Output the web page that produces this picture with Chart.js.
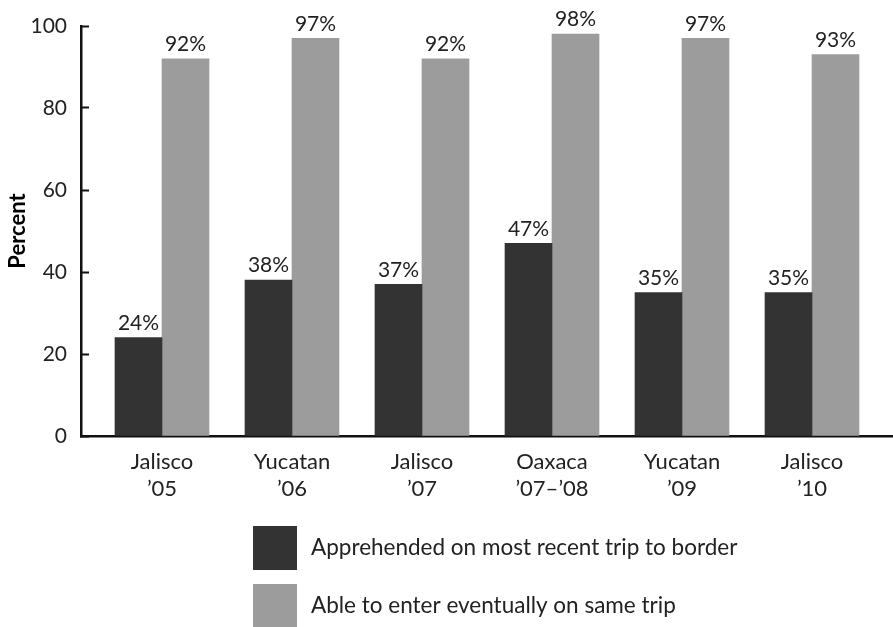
<!DOCTYPE html>
<html>
<head>
<meta charset="utf-8">
<script src="https://cdn.jsdelivr.net/npm/chart.js@4/dist/chart.umd.min.js"></script>
<style>
  html, body { margin: 0; padding: 0; background: #fff; }
  #wrap { width: 893px; height: 627px; position: relative; }
</style>
</head>
<body>
<div id="wrap"><canvas id="chart"></canvas></div>
<script>
// survey sites (two-line labels)
const sites = [
  ['Jalisco', '\u201905'],
  ['Yucatan', '\u201906'],
  ['Jalisco', '\u201907'],
  ['Oaxaca', '\u201907\u2013\u201908'],
  ['Yucatan', '\u201909'],
  ['Jalisco', '\u201910']
];
const apprehended = [24, 38, 37, 47, 35, 35];
const enteredEventually = [92, 97, 92, 98, 97, 93];
const yTicks = [0, 20, 40, 60, 80, 100];

const FONT = 'Lato, "Noto Sans", sans-serif';
const TEXT = '#222';

const toPoints = (vals) => vals.map((v, i) => ({ x: i, y: v }));

// percent labels above each bar
const valueLabels = {
  id: 'valueLabels',
  afterDatasetsDraw(chart) {
    const ctx = chart.ctx;
    ctx.save();
    ctx.font = '21px ' + FONT;
    ctx.fillStyle = TEXT;
    ctx.textAlign = 'center';
    ctx.textBaseline = 'bottom';
    chart.data.datasets.forEach((ds, i) => {
      chart.getDatasetMeta(i).data.forEach((bar, j) => {
        ctx.fillText(ds.data[j].y + '%', bar.x, bar.y - 4);
      });
    });
    ctx.restore();
  }
};

// stacked legend under the chart
const boxLegend = {
  id: 'boxLegend',
  afterDraw(chart) {
    const ctx = chart.ctx;
    ctx.save();
    ctx.font = '22.5px ' + FONT;
    ctx.textBaseline = 'middle';
    chart.data.datasets.forEach((ds, i) => {
      const y = 526 + i * 58;
      ctx.fillStyle = ds.backgroundColor;
      ctx.fillRect(253, y, 44, 44);
      ctx.fillStyle = TEXT;
      ctx.fillText(ds.label, 311, y + 22);
    });
    ctx.restore();
  }
};

new Chart(document.getElementById('chart'), {
  type: 'bar',
  data: {
    datasets: [
      {
        label: 'Apprehended on most recent trip to border',
        data: toPoints(apprehended),
        backgroundColor: '#333333'
      },
      {
        label: 'Able to enter eventually on same trip',
        data: toPoints(enteredEventually),
        backgroundColor: '#9c9c9c'
      }
    ]
  },
  options: {
    responsive: true,
    maintainAspectRatio: false,
    animation: false,
    barThickness: 47,
    layout: { padding: { top: 26, right: 0, bottom: 0, left: 0 } },
    plugins: {
      legend: { display: false },
      tooltip: { enabled: false }
    },
    scales: {
      x: {
        type: 'linear',
        offset: false,
        min: -0.623,
        max: 5.623,
        afterFit: (s) => { s.height = 191; },
        grid: { display: false, offset: false },
        border: { display: true, color: '#111', width: 2.5 },
        ticks: {
          stepSize: 1,
          includeBounds: false,
          autoSkip: false,
          maxRotation: 0,
          padding: 5,
          color: TEXT,
          font: { family: FONT, size: 22, lineHeight: 1.2 },
          callback: (v) => sites[v] || ''
        }
      },
      y: {
        min: 0,
        max: 100,
        afterFit: (s) => { s.width = 81; s.paddingTop = 10; s.paddingBottom = 10; },
        afterBuildTicks: (s) => { s.ticks = yTicks.map((v) => ({ value: v })); },
        grid: { drawOnChartArea: false, tickLength: -8, color: '#111', tickWidth: 2 },
        border: { display: true, color: '#111', width: 2.5 },
        title: {
          display: true,
          text: 'Percent',
          color: '#000',
          font: { family: FONT, size: 22, weight: 'bold' },
          padding: { top: 5, bottom: 0 }
        },
        ticks: {
          padding: 22,
          color: TEXT,
          font: { family: FONT, size: 21 }
        }
      }
    }
  },
  plugins: [valueLabels, boxLegend]
});
</script>
</body>
</html>
